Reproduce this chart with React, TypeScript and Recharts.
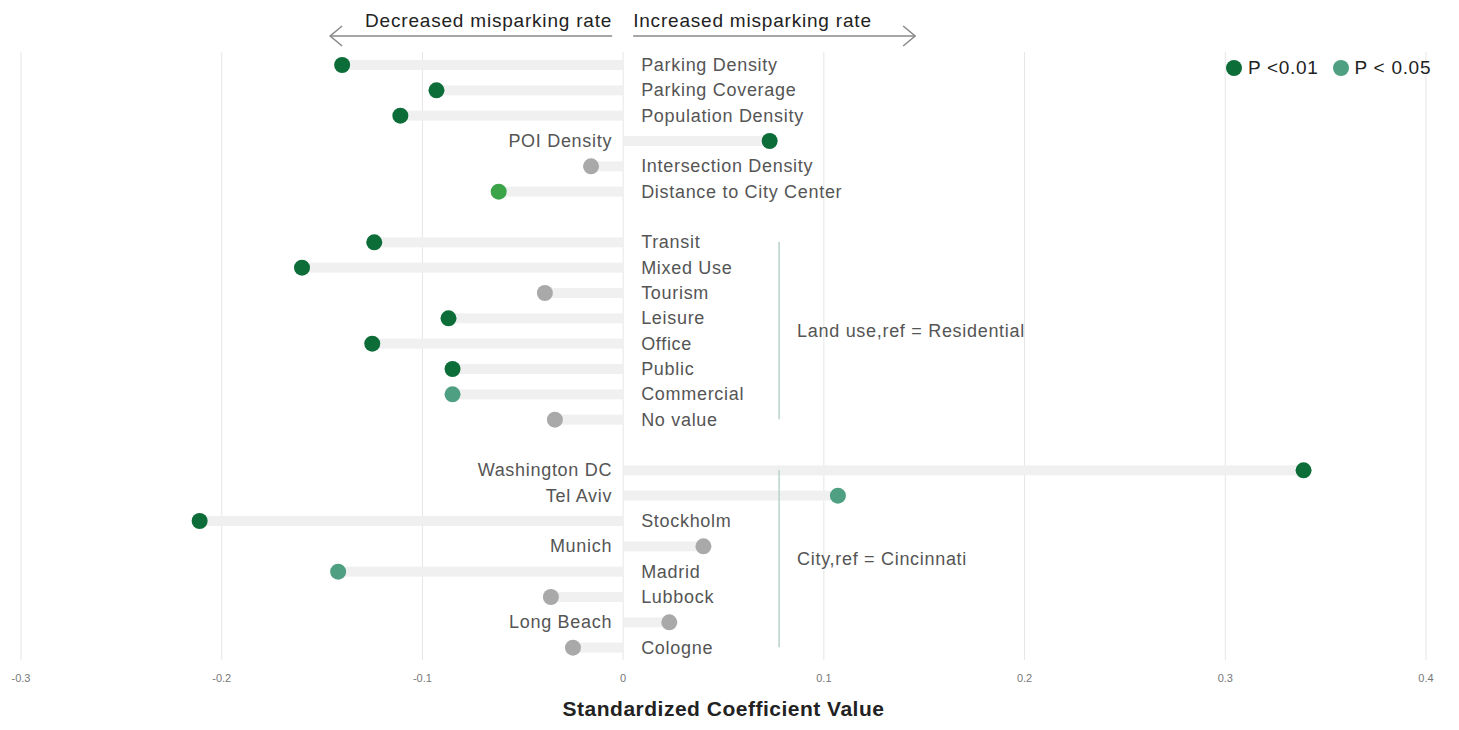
import { ComposedChart, Bar, XAxis, YAxis, CartesianGrid, ReferenceLine, Legend } from "recharts";

// rows top to bottom; "gap" rows are the blank separators between groups
const categories = [
  "Parking Density",
  "Parking Coverage",
  "Population Density",
  "POI Density",
  "Intersection Density",
  "Distance to City Center",
  "gap1",
  "Transit",
  "Mixed Use",
  "Tourism",
  "Leisure",
  "Office",
  "Public",
  "Commercial",
  "No value",
  "gap2",
  "Washington DC",
  "Tel Aviv",
  "Stockholm",
  "Munich",
  "Madrid",
  "Lubbock",
  "Long Beach",
  "Cologne",
];

const coefficients: (number | null)[] = [
  -0.14, -0.093, -0.111, 0.073, -0.016, -0.062,
  null,
  -0.124, -0.16, -0.039, -0.087, -0.125, -0.085, -0.085, -0.034,
  null,
  0.339, 0.107, -0.211, 0.04, -0.142, -0.036, 0.023, -0.025,
];

const significance = [
  "p01", "p01", "p01", "p01", "ns", "p05b",
  "",
  "p01", "p01", "ns", "p01", "p01", "p01", "p05", "ns",
  "",
  "p01", "p05", "p01", "ns", "p05", "ns", "ns", "ns",
];

const xTicks = [-0.3, -0.2, -0.1, 0, 0.1, 0.2, 0.3, 0.4];
const xDomain = [-0.3, 0.4];

const legendItems = [
  { label: "P <0.01", key: "p01" },
  { label: "P < 0.05", key: "p05" },
];

const colors: Record<string, string> = {
  p01: "#0c6d38",
  p05: "#4f9f82",
  p05b: "#3ba449",
  ns: "#a9a9a9",
};

const data = categories.map((name, i) => ({
  name,
  value: coefficients[i],
  sig: significance[i],
}));

const W = 1451;
const H = 714;
const margin = { top: 44, right: 33, bottom: 0, left: 13 };
const plotW = W - margin.left - margin.right;
const zeroX = margin.left + (plotW * (0 - xDomain[0])) / (xDomain[1] - xDomain[0]);

const LollipopShape = (props: any) => {
  const { x, y, width, height, payload } = props;
  if (payload == null || payload.value == null) return null;
  const v = payload.value as number;
  const a = x;
  const b = x + width;
  const left = Math.min(a, b);
  const right = Math.max(a, b);
  const cy = y + height / 2;
  const end = v < 0 ? left : right;
  const zero = v < 0 ? right : left;
  const labelRight = v < 0;
  return (
    <g>
      <rect x={left} y={cy - 5} width={right - left} height={10} fill="#f0f0f0" />
      <circle cx={end} cy={cy} r={8} fill={colors[payload.sig]} />
      <text
        x={labelRight ? zero + 18 : zero - 11}
        y={cy}
        dominantBaseline="central"
        textAnchor={labelRight ? "start" : "end"}
        fontSize={18}
        letterSpacing={0.7}
        fill="#555"
      >
        {payload.name}
      </text>
    </g>
  );
};

const renderLegend = () => (
  <div style={{ display: "flex", alignItems: "center", fontSize: 19, letterSpacing: 0.7, color: "#222" }}>
    {legendItems.map((it) => (
      <div key={it.key} style={{ display: "flex", alignItems: "center", marginRight: 14, whiteSpace: "pre" }}>
        <span
          style={{
            width: 16,
            height: 16,
            borderRadius: 8,
            background: colors[it.key],
            display: "inline-block",
            marginRight: 6,
          }}
        />
        {it.label}
      </div>
    ))}
  </div>
);

export default function App() {
  return (
    <div style={{ position: "relative", width: W, height: H, fontFamily: "'Liberation Sans', Arial, sans-serif" }}>
      <ComposedChart width={W} height={H} data={data} layout="vertical" margin={margin}>
        <CartesianGrid horizontal={false} stroke="#e6e6e6" />
        <XAxis
          type="number"
          domain={xDomain}
          ticks={xTicks}
          height={62}
          tickLine={false}
          axisLine={false}
          tickSize={0}
          tickMargin={14}
          tick={{ fontSize: 11, fill: "#777" }}
          label={{
            value: "Standardized Coefficient Value",
            position: "insideBottom",
            offset: 6,
            fontSize: 21,
            letterSpacing: 0.5,
            fontWeight: "bold",
            fill: "#222",
          }}
        />
        <YAxis type="category" dataKey="name" hide />
        <Legend
          layout="horizontal"
          verticalAlign="middle"
          align="center"
          content={renderLegend}
          wrapperStyle={{ top: 49, left: 1218, width: 240 }}
        />
        <Bar dataKey="value" barSize={10} shape={LollipopShape} isAnimationActive={false} />
        <ReferenceLine
          segment={[
            { x: 0.0777, y: "Transit" },
            { x: 0.0777, y: "No value" },
          ]}
          stroke="#b9d2ca"
          strokeWidth={1.5}
          label={{
            value: "Land use,ref = Residential",
            position: "right",
            offset: 18,
            fontSize: 18,
            letterSpacing: 0.7,
            fill: "#555",
          }}
        />
        <ReferenceLine
          segment={[
            { x: 0.0777, y: "Washington DC" },
            { x: 0.0777, y: "Cologne" },
          ]}
          stroke="#b9d2ca"
          strokeWidth={1.5}
          label={{
            value: "City,ref = Cincinnati",
            position: "right",
            offset: 18,
            fontSize: 18,
            letterSpacing: 0.7,
            fill: "#555",
          }}
        />
      </ComposedChart>
      <svg width={W} height={50} style={{ position: "absolute", left: 0, top: 0, pointerEvents: "none" }}>
        <text x={zeroX - 11} y={12} textAnchor="end" dominantBaseline="central" fontSize={19} letterSpacing={0.8} fill="#222">
          Decreased misparking rate
        </text>
        <text x={zeroX + 10} y={12} textAnchor="start" dominantBaseline="central" fontSize={19} letterSpacing={0.8} fill="#222">
          Increased misparking rate
        </text>
        <g stroke="#888" strokeWidth={1.5} fill="none">
          <line x1={zeroX - 293} y1={28} x2={zeroX - 11} y2={28} />
          <polyline points={`${zeroX - 281},18 ${zeroX - 293},28 ${zeroX - 281},38`} />
          <line x1={zeroX + 10} y1={28} x2={zeroX + 292} y2={28} />
          <polyline points={`${zeroX + 280},18 ${zeroX + 292},28 ${zeroX + 280},38`} />
        </g>
      </svg>
    </div>
  );
}
